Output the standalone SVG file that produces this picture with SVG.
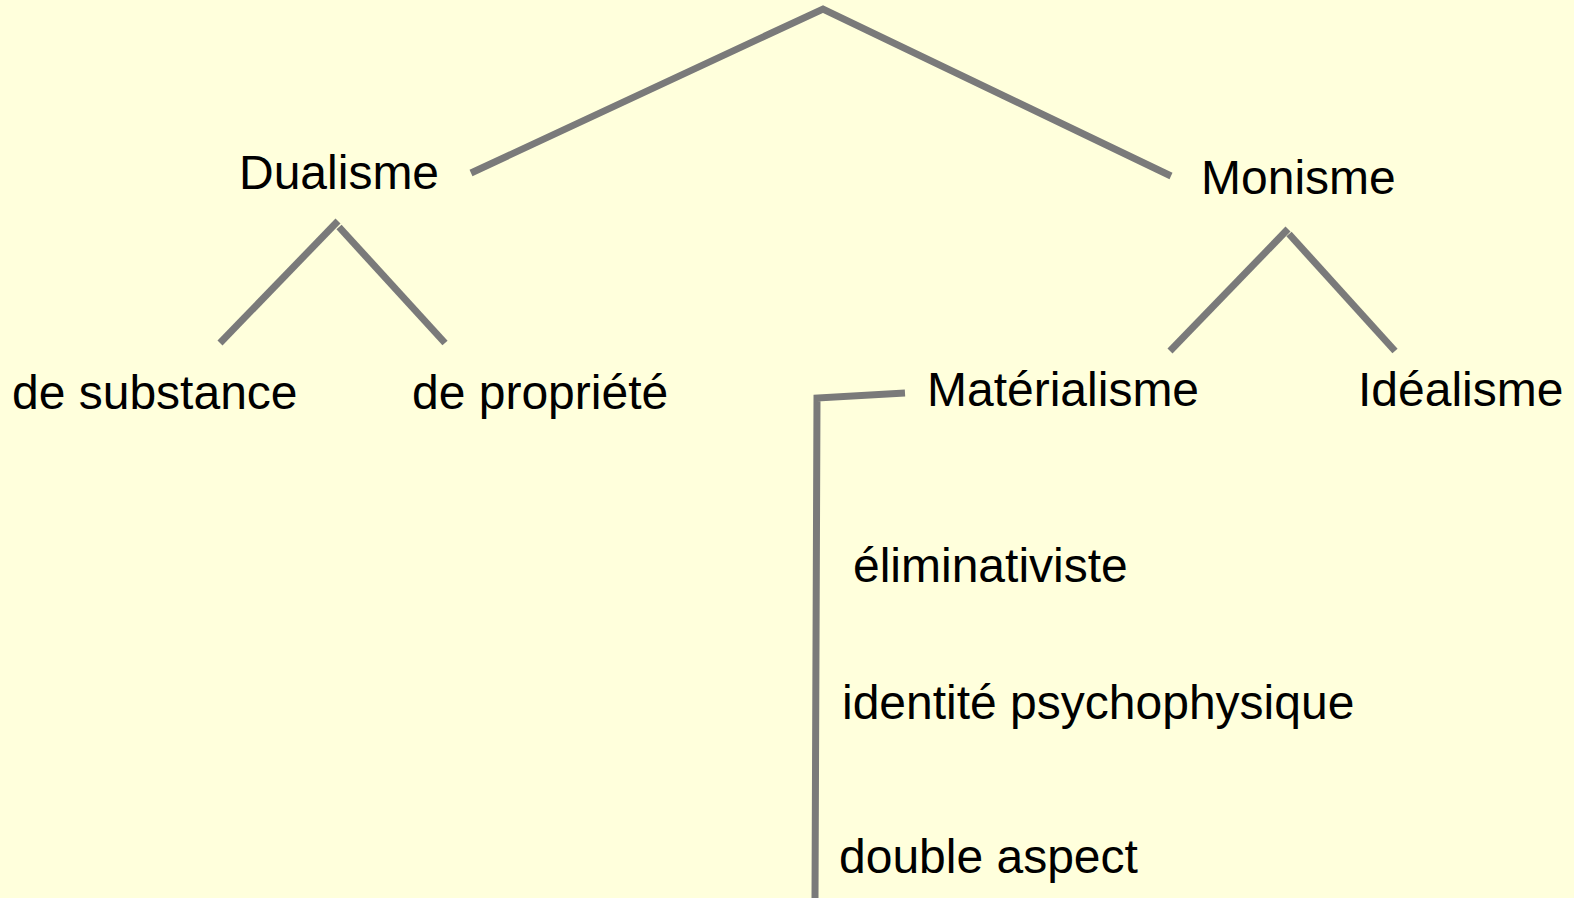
<svg xmlns="http://www.w3.org/2000/svg" width="1574" height="898" viewBox="0 0 1574 898">
<style>
.bg{fill:#ffffdc}
.lbl{font-family:"Liberation Sans",Arial,sans-serif;font-size:48px;fill:#000}
.edge{stroke:#7a7a7a;stroke-width:7;fill:none;stroke-linecap:butt;stroke-linejoin:miter}
</style>
<rect class="bg" x="0" y="0" width="1574" height="898"/>
<g id="connectors">
<polyline class="edge" points="471,173 823,9 1171,176"/>
<line class="edge" x1="338" y1="221" x2="220" y2="343"/>
<line class="edge" x1="339" y1="227" x2="445" y2="343"/>
<line class="edge" x1="1288" y1="229" x2="1170" y2="351"/>
<line class="edge" x1="1289" y1="234" x2="1395" y2="351"/>
<polyline class="edge" points="905,393 817,398 815,898"/>
</g>
<g id="node-dualisme"><text class="lbl" x="239" y="189">Dualisme</text></g>
<g id="node-monisme"><text class="lbl" x="1201" y="194">Monisme</text></g>
<g id="node-substance"><text class="lbl" x="12" y="409">de substance</text></g>
<g id="node-propriete"><text class="lbl" x="412" y="409">de propriété</text></g>
<g id="node-materialisme"><text class="lbl" x="927" y="406">Matérialisme</text></g>
<g id="node-idealisme"><text class="lbl" x="1358" y="406">Idéalisme</text></g>
<g id="node-eliminativiste"><text class="lbl" x="853" y="582">éliminativiste</text></g>
<g id="node-identite"><text class="lbl" x="842" y="719">identité psychophysique</text></g>
<g id="node-double"><text class="lbl" x="839" y="873">double aspect</text></g>
</svg>
